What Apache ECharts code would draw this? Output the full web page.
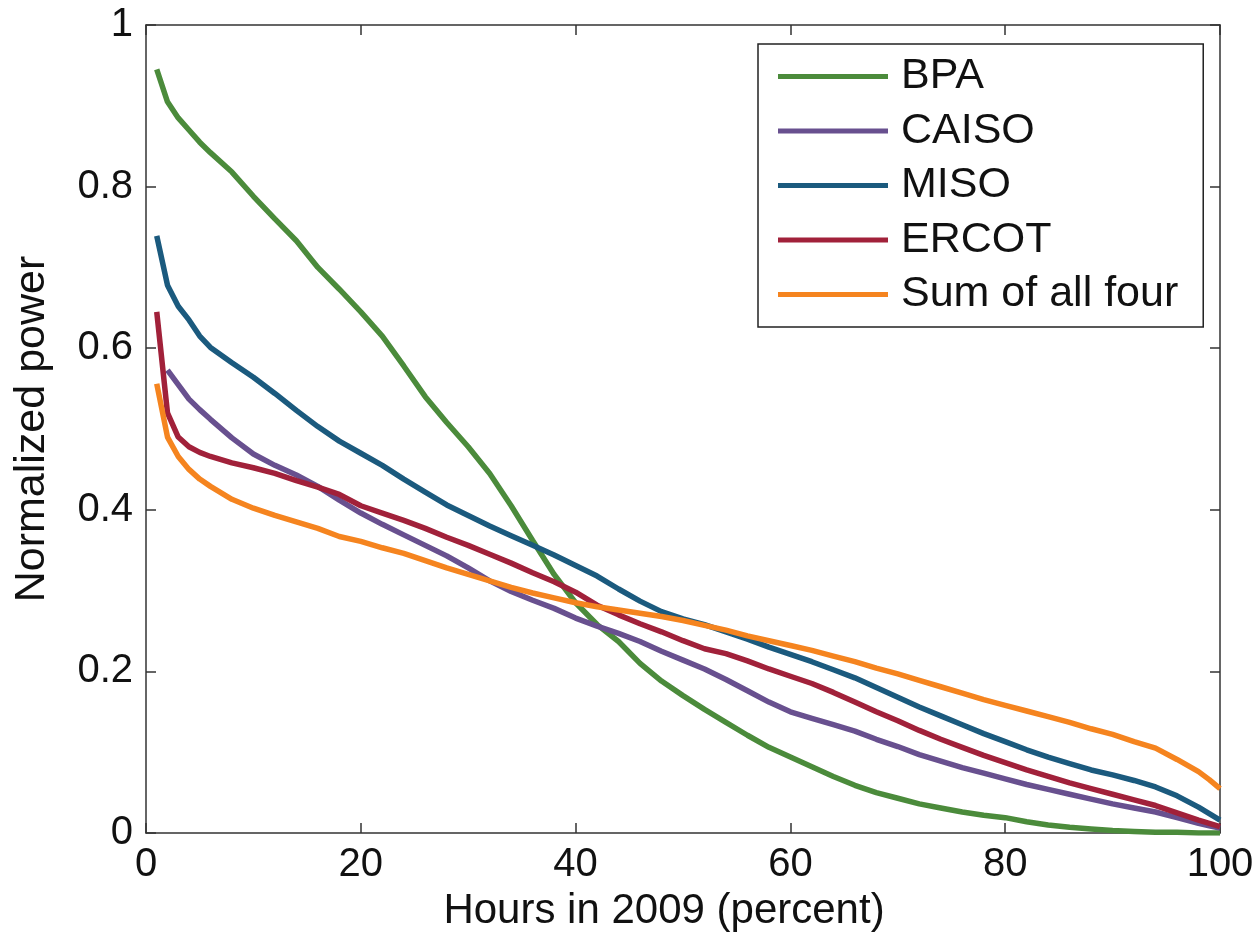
<!DOCTYPE html>
<html>
<head>
<meta charset="utf-8">
<script src="https://cdn.jsdelivr.net/npm/echarts@6/dist/echarts.min.js"></script>
<style>
html,body{margin:0;padding:0;background:#fff;}
#chart{width:1260px;height:943px;}
</style>
</head>
<body>
<div id="chart"></div>
<script>
const hours = [1,2,3,4,5,6,8,10,12,14,16,18,20,22,24,26,28,30,32,34,36,38,40,42,44,46,48,50,52,54,56,58,60,62,64,66,68,70,72,74,76,78,80,82,84,86,88,90,92,94,96,98,99,100];

const bpa = [0.945,0.905,0.885,0.870,0.855,0.842,0.818,0.788,0.760,0.733,0.700,0.673,0.645,0.615,0.578,0.540,0.508,0.478,0.445,0.405,0.362,0.320,0.285,0.258,0.237,0.210,0.188,0.170,0.153,0.137,0.121,0.106,0.094,0.082,0.070,0.059,0.050,0.043,0.036,0.031,0.026,0.022,0.019,0.014,0.010,0.007,0.005,0.003,0.002,0.001,0.001,0.0,0.0,0.0];

const caiso = [null,0.573,0.555,0.537,0.524,0.512,0.489,0.469,0.455,0.443,0.429,0.412,0.396,0.382,0.369,0.356,0.343,0.328,0.312,0.299,0.288,0.278,0.266,0.256,0.247,0.237,0.225,0.214,0.203,0.190,0.176,0.162,0.150,0.142,0.134,0.126,0.116,0.107,0.097,0.089,0.081,0.074,0.067,0.060,0.054,0.048,0.042,0.036,0.031,0.026,0.019,0.012,0.009,0.006];

const miso = [0.739,0.678,0.652,0.635,0.615,0.601,0.582,0.564,0.544,0.523,0.503,0.485,0.470,0.455,0.438,0.422,0.406,0.393,0.380,0.368,0.356,0.344,0.331,0.318,0.302,0.287,0.274,0.265,0.258,0.249,0.240,0.230,0.221,0.212,0.202,0.192,0.180,0.168,0.156,0.145,0.134,0.123,0.113,0.103,0.094,0.086,0.078,0.072,0.065,0.057,0.046,0.032,0.024,0.016];

const ercot = [0.645,0.520,0.490,0.478,0.471,0.466,0.458,0.452,0.445,0.436,0.428,0.419,0.405,0.396,0.387,0.377,0.366,0.356,0.345,0.334,0.322,0.311,0.298,0.282,0.270,0.259,0.249,0.238,0.228,0.222,0.213,0.203,0.194,0.185,0.174,0.162,0.150,0.139,0.127,0.116,0.106,0.096,0.087,0.078,0.070,0.062,0.055,0.048,0.041,0.034,0.025,0.016,0.012,0.008];

const sumAll = [0.556,0.490,0.466,0.450,0.438,0.429,0.413,0.402,0.393,0.385,0.377,0.367,0.361,0.353,0.346,0.337,0.328,0.320,0.312,0.304,0.297,0.291,0.285,0.280,0.276,0.272,0.268,0.263,0.257,0.251,0.244,0.238,0.232,0.226,0.219,0.212,0.204,0.197,0.189,0.181,0.173,0.165,0.158,0.151,0.144,0.137,0.129,0.122,0.113,0.105,0.091,0.076,0.066,0.055];

const seriesNames = ['BPA','CAISO','MISO','ERCOT','Sum of all four'];
const seriesValues = [bpa, caiso, miso, ercot, sumAll];
const seriesColors = ['#4b8b3b','#68508f','#1b5a7e','#a1213a','#f5841f'];

const xTitle = 'Hours in 2009 (percent)';
const yTitle = 'Normalized power';

const FONT = '"Liberation Sans", Arial, Helvetica, sans-serif';
const axisLineStyle = {color:'#333', width:1.5};

function pairs(vals){ return hours.map((h,i)=>[h, vals[i]]); }

function boxAxis(extra){
  return Object.assign({
    type:'value',
    axisLine:{show:true, onZero:false, lineStyle:axisLineStyle},
    axisTick:{show:true, inside:true, length:10, lineStyle:axisLineStyle},
    splitLine:{show:false}
  }, extra);
}

const chart = echarts.init(document.getElementById('chart'), null, {renderer:'canvas'});
chart.setOption({
  animation:false,
  backgroundColor:'#fff',
  grid:{left:146, top:25, right:40, bottom:110, containLabel:false},
  legend:{
    orient:'vertical',
    left:758, top:44,
    padding:[11,25,11,20],
    itemGap:11.5,
    itemWidth:110, itemHeight:5,
    icon:'rect',
    borderColor:'#222', borderWidth:1.5,
    backgroundColor:'#fff',
    textStyle:{fontSize:43, color:'#111', fontFamily:FONT, padding:[0,0,0,8]},
    data:seriesNames
  },
  xAxis:[
    boxAxis({
      min:0, max:100, interval:20, position:'bottom',
      axisLabel:{fontSize:40, color:'#111', fontFamily:FONT, margin:12},
      name:xTitle, nameLocation:'middle', nameGap:57,
      nameTextStyle:{fontSize:42, color:'#111', fontFamily:FONT, padding:[0,38,0,0]}
    }),
    boxAxis({min:0, max:100, interval:20, position:'top', axisLabel:{show:false}})
  ],
  yAxis:[
    boxAxis({
      min:0, max:1, interval:0.2, position:'left',
      axisLabel:{fontSize:40, color:'#111', fontFamily:FONT, margin:13},
      name:yTitle, nameLocation:'middle', nameGap:92,
      nameTextStyle:{fontSize:43, color:'#111', fontFamily:FONT}
    }),
    boxAxis({min:0, max:1, interval:0.2, position:'right', axisLabel:{show:false}})
  ],
  series: seriesNames.map((n,i)=>({
    name:n, type:'line', xAxisIndex:0, yAxisIndex:0,
    data:pairs(seriesValues[i]),
    showSymbol:false, symbol:'none', connectNulls:false,
    lineStyle:{color:seriesColors[i], width:5.5},
    itemStyle:{color:seriesColors[i]},
    z:2+i
  }))
});
</script>
</body>
</html>
